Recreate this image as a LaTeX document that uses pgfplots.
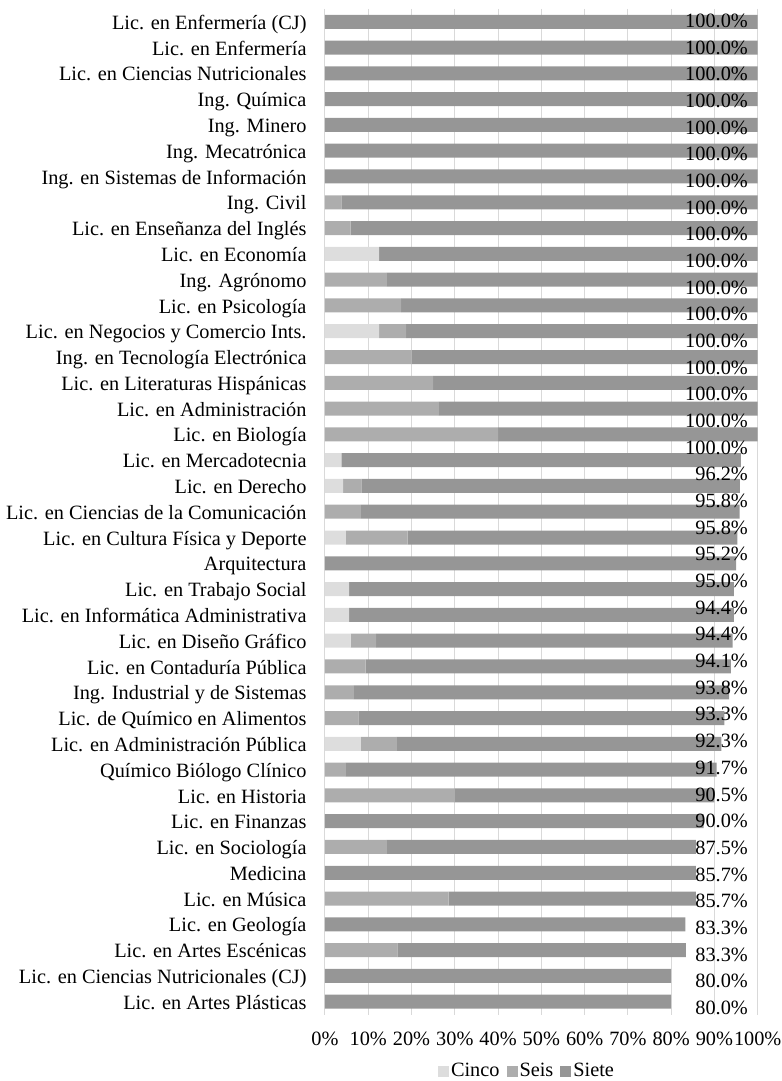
\documentclass[border=0pt]{standalone}
\usepackage{pgfplots}
\usepackage{pgfplotstable}
\pgfplotsset{compat=1.18}
\usepackage{fontspec}
\setmainfont{Liberation Serif}
\definecolor{cinco}{HTML}{DDDDDD}
\definecolor{seis}{HTML}{ADADAD}
\definecolor{siete}{HTML}{969696}
\definecolor{gridc}{HTML}{D9D9D9}

\pgfplotstableread{
y cinco seis siete
0 0 0 100
1 0 0 100
2 0 0 100
3 0 0 100
4 0 0 100
5 0 0 100
6 0 0 100
7 0 3.8 96.2
8 0 5.9 94.1
9 12.5 0 87.5
10 0 14.3 85.7
11 0 17.6 82.4
12 12.5 6.25 81.25
13 0 20 80
14 0 25 75
15 0 26.3 73.7
16 0 40 60
17 3.8 0 92.3
18 4.2 4.2 87.5
19 0 8.3 87.5
20 4.8 14.3 76.2
21 0 0 95.0
22 5.6 0 88.9
23 5.6 0 88.9
24 5.9 5.9 82.4
25 0 9.4 84.4
26 0 6.7 86.7
27 0 7.7 84.6
28 8.3 8.3 75.0
29 0 4.8 85.7
30 0 30 60
31 0 0 87.5
32 0 14.3 71.4
33 0 0 85.7
34 0 28.6 57.1
35 0 0 83.3
36 0 16.7 66.7
37 0 0 80
38 0 0 80
}\datatab

\pgfplotstableread{
y x v
-0.039 97.76 100.0
0.9955 97.76 100.0
2.030 97.76 100.0
3.0645 97.76 100.0
4.099 97.76 100.0
5.1335 97.76 100.0
6.168 97.76 100.0
7.2025 97.76 100.0
8.237 97.76 100.0
9.2715 97.76 100.0
10.306 97.76 100.0
11.3405 97.76 100.0
12.375 97.76 100.0
13.4095 97.76 100.0
14.444 97.76 100.0
15.4785 97.76 100.0
16.513 97.76 100.0
17.5475 97.76 96.2
18.582 97.76 95.8
19.6165 97.76 95.8
20.651 97.76 95.2
21.6855 97.76 95.0
22.72 97.76 94.4
23.7545 97.76 94.4
24.789 97.76 94.1
25.8235 97.76 93.8
26.858 97.76 93.3
27.8925 97.76 92.3
28.927 97.76 91.7
29.9615 97.76 90.5
30.996 97.76 90.0
32.0305 97.76 87.5
33.065 97.76 85.7
34.0995 97.76 85.7
35.134 97.76 83.3
36.1685 97.76 83.3
37.203 97.76 80.0
38.2375 97.76 80.0
}\labtab

\begin{document}
\fontsize{20.3bp}{24bp}\selectfont
\begin{tikzpicture}
\useasboundingbox (-325bp,-66.4bp) rectangle (457bp,1014.6bp);
\begin{axis}[
  at={(0,0)}, anchor=south west,
  scale only axis, width=432.7bp, height=1005.8bp,
  xbar stacked, bar width=14bp,
  xmin=0, xmax=100, ymin=-0.5, ymax=38.5, y dir=reverse,
  ytick={0,...,38},
  yticklabels={Lic. en Enfermería (CJ),Lic. en Enfermería,Lic. en Ciencias Nutricionales,Ing. Química,Ing. Minero,Ing. Mecatrónica,Ing. en Sistemas de Información,Ing. Civil,Lic. en Enseñanza del Inglés,Lic. en Economía,Ing. Agrónomo,Lic. en Psicología,Lic. en Negocios y Comercio Ints.,Ing. en Tecnología Electrónica,Lic. en Literaturas Hispánicas,Lic. en Administración,Lic. en Biología,Lic. en Mercadotecnia,Lic. en Derecho,Lic. en Ciencias de la Comunicación,Lic. en Cultura Física y Deporte,Arquitectura,Lic. en Trabajo Social,Lic. en Informática Administrativa,Lic. en Diseño Gráfico,Lic. en Contaduría Pública,Ing. Industrial y de Sistemas,Lic. de Químico en Alimentos,Lic. en Administración Pública,Químico Biólogo Clínico,Lic. en Historia,Lic. en Finanzas,Lic. en Sociología,Medicina,Lic. en Música,Lic. en Geología,Lic. en Artes Escénicas,Lic. en Ciencias Nutricionales (CJ),Lic. en Artes Plásticas},
  xtick={0,10,...,100},
  xticklabels={0\%,10\%,20\%,30\%,40\%,50\%,60\%,70\%,80\%,90\%,100\%},
  xmajorgrids, major grid style={draw=gridc, line width=1bp},
  axis line style={draw=none}, major tick length=0pt,
  yticklabel style={inner sep=0pt, anchor=base east, xshift=-18.3bp, yshift=-7.6bp},
  xticklabel style={inner sep=0pt, anchor=north, yshift=-17bp},
  legend style={at={(0.4668,-0.0561)}, anchor=center, draw=none, fill=none,
    legend columns=-1, inner sep=0pt,
    /tikz/every even column/.append style={column sep=5bp},
    nodes={inner sep=2bp}},
  legend image code/.code={\fill[#1] (0bp,-5.5bp) rectangle (11bp,5.5bp);},
]
\addplot[fill=cinco, draw=none] table[x=cinco, y=y] {\datatab};
\addplot[fill=seis, draw=none] table[x=seis, y=y] {\datatab};
\addplot[fill=siete, draw=none] table[x=siete, y=y] {\datatab};
\legend{Cinco, Seis, Siete}
\end{axis}
\begin{axis}[
  at={(0,0)}, anchor=south west,
  scale only axis, width=432.7bp, height=1005.8bp,
  xmin=0, xmax=100, ymin=-0.5, ymax=38.5, y dir=reverse,
  hide axis, clip=false,
]
\addplot[draw=none, mark=none, point meta=explicit,
  nodes near coords={\pgfmathprintnumber[fixed, fixed zerofill, precision=1, assume math mode=true]{\pgfplotspointmeta}\%},
  every node near coord/.append style={anchor=east, inner sep=0pt, text=black}]
  table[x=x, y=y, meta=v] {\labtab};
\end{axis}
\end{tikzpicture}
\end{document}
